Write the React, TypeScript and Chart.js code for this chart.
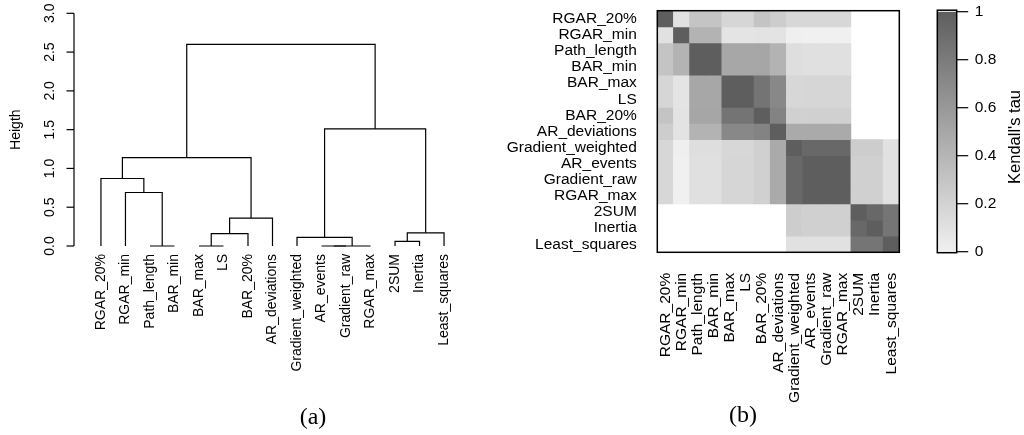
import React, { useEffect, useRef } from "react";
import { Chart, registerables } from "chart.js";

Chart.register(...registerables);

// ---------- Data: dendrogram (a) ----------
const leafLabels = [
  "RGAR_20%", "RGAR_min", "Path_length", "BAR_min", "BAR_max", "LS", "BAR_20%",
  "AR_deviations", "Gradient_weighted", "AR_events", "Gradient_raw", "RGAR_max",
  "2SUM", "Inertia", "Least_squares",
];
// hclust-like merges: negative = leaf position (1-based), positive = earlier merge (1-based)
const mergeLeft = [-3, -5, -10, 3, -13, -9, 2, 5, 7, -2, -1, 11, 6, 12];
const mergeRight = [-4, -6, -11, -12, -14, 4, -7, -15, -8, 1, 10, 9, 8, 13];
const mergeHeight = [0, 0, 0, 0, 0.06, 0.11, 0.16, 0.17, 0.36, 0.69, 0.87, 1.14, 1.51, 2.6];
const heightTicks = [0, 0.5, 1, 1.5, 2, 2.5, 3];
const heightTickLabels = ["0.0", "0.5", "1.0", "1.5", "2.0", "2.5", "3.0"];

// ---------- Data: Kendall's tau heatmap (b) ----------
const heatLabels = [
  "RGAR_20%", "RGAR_min", "Path_length", "BAR_min", "BAR_max", "LS", "BAR_20%",
  "AR_deviations", "Gradient_weighted", "AR_events", "Gradient_raw", "RGAR_max",
  "2SUM", "Inertia", "Least_squares",
];
const N = null;
const tau: (number | null)[][] = [
  [1.00, 0.10, 0.30, 0.30, 0.18, 0.18, 0.30, 0.24, 0.17, 0.17, 0.17, 0.17, N, N, N],
  [0.10, 1.00, 0.42, 0.42, 0.08, 0.08, 0.09, 0.09, 0.01, 0.00, 0.00, 0.00, N, N, N],
  [0.30, 0.42, 1.00, 1.00, 0.50, 0.50, 0.51, 0.42, 0.12, 0.11, 0.11, 0.11, N, N, N],
  [0.30, 0.42, 1.00, 1.00, 0.50, 0.50, 0.51, 0.42, 0.12, 0.11, 0.11, 0.11, N, N, N],
  [0.18, 0.08, 0.50, 0.50, 1.00, 1.00, 0.85, 0.71, 0.17, 0.18, 0.18, 0.18, N, N, N],
  [0.18, 0.08, 0.50, 0.50, 1.00, 1.00, 0.85, 0.71, 0.17, 0.18, 0.18, 0.18, N, N, N],
  [0.30, 0.09, 0.51, 0.51, 0.85, 0.85, 1.00, 0.75, 0.22, 0.22, 0.22, 0.22, N, N, N],
  [0.24, 0.09, 0.42, 0.42, 0.71, 0.71, 0.75, 1.00, 0.48, 0.48, 0.48, 0.48, N, N, N],
  [0.17, 0.01, 0.12, 0.12, 0.17, 0.17, 0.22, 0.48, 1.00, 0.93, 0.93, 0.93, 0.24, 0.24, 0.10],
  [0.17, 0.00, 0.11, 0.11, 0.18, 0.18, 0.22, 0.48, 0.93, 1.00, 1.00, 1.00, 0.22, 0.22, 0.10],
  [0.17, 0.00, 0.11, 0.11, 0.18, 0.18, 0.22, 0.48, 0.93, 1.00, 1.00, 1.00, 0.22, 0.22, 0.10],
  [0.17, 0.00, 0.11, 0.11, 0.18, 0.18, 0.22, 0.48, 0.93, 1.00, 1.00, 1.00, 0.22, 0.22, 0.10],
  [N, N, N, N, N, N, N, N, 0.24, 0.22, 0.22, 0.22, 1.00, 0.93, 0.84],
  [N, N, N, N, N, N, N, N, 0.24, 0.22, 0.22, 0.22, 0.93, 1.00, 0.84],
  [N, N, N, N, N, N, N, N, 0.10, 0.10, 0.10, 0.10, 0.84, 0.84, 1.00],
];
const tauTicks = [0, 0.2, 0.4, 0.6, 0.8, 1];
const tauTickLabels = ["0", "0.2", "0.4", "0.6", "0.8", "1"];

// ---------- Styling helpers ----------
const SANS = '"Liberation Sans", Arial, Helvetica, sans-serif';
const SERIF = '"Liberation Serif", "Times New Roman", serif';
const gray = (v: number) => {
  const g = Math.round(240 - 146 * v);
  return `rgb(${g},${g},${g})`;
};

function buildDendrogramSegments() {
  const mx: number[] = [];
  const segs: { x: number; y: number }[][] = [];
  const node = (id: number) =>
    id < 0 ? { x: -id, h: 0 } : { x: mx[id - 1], h: mergeHeight[id - 1] };
  for (let m = 0; m < mergeHeight.length; m++) {
    const a = node(mergeLeft[m]);
    const b = node(mergeRight[m]);
    const h = mergeHeight[m];
    mx.push((a.x + b.x) / 2);
    segs.push([
      { x: a.x, y: a.h },
      { x: a.x, y: h },
      { x: b.x, y: h },
      { x: b.x, y: b.h },
    ]);
  }
  return segs;
}

const dendroAxesPlugin = {
  id: "dendroAxes",
  afterDraw(chart: any) {
    const ctx = chart.ctx;
    const xs = chart.scales.x;
    const ys = chart.scales.y;
    const area = chart.chartArea;
    const left = area.left;
    ctx.save();
    ctx.strokeStyle = "#000";
    ctx.fillStyle = "#000";
    ctx.lineWidth = 1.2;
    ctx.beginPath();
    ctx.moveTo(left, ys.getPixelForValue(heightTicks[0]));
    ctx.lineTo(left, ys.getPixelForValue(heightTicks[heightTicks.length - 1]));
    ctx.stroke();
    ctx.font = `14px ${SANS}`;
    heightTicks.forEach((t, i) => {
      const y = ys.getPixelForValue(t);
      ctx.beginPath();
      ctx.moveTo(left - 7.5, y);
      ctx.lineTo(left, y);
      ctx.stroke();
      ctx.save();
      ctx.translate(left - 24, y);
      ctx.rotate(-Math.PI / 2);
      ctx.textAlign = "center";
      ctx.textBaseline = "middle";
      ctx.fillText(heightTickLabels[i], 0, 0);
      ctx.restore();
    });
    ctx.save();
    ctx.translate(16.5, (area.top + area.bottom) / 2);
    ctx.rotate(-Math.PI / 2);
    ctx.textAlign = "center";
    ctx.textBaseline = "middle";
    ctx.fillText("Heigth", 0, 0);
    ctx.restore();
    const yLab = ys.getPixelForValue(0) + 8;
    leafLabels.forEach((lab, i) => {
      const x = xs.getPixelForValue(i + 1);
      ctx.save();
      ctx.translate(x, yLab);
      ctx.rotate(-Math.PI / 2);
      ctx.textAlign = "right";
      ctx.textBaseline = "middle";
      ctx.fillText(lab, 0, 0);
      ctx.restore();
    });
    ctx.font = `24px ${SERIF}`;
    ctx.textAlign = "center";
    ctx.textBaseline = "middle";
    ctx.fillText("(a)", 313, 418);
    ctx.restore();
  },
};

const heatAxesPlugin = {
  id: "heatAxes",
  afterDraw(chart: any) {
    const ctx = chart.ctx;
    const xs = chart.scales.x;
    const ys = chart.scales.y;
    const a = chart.chartArea;
    ctx.save();
    ctx.strokeStyle = "#000";
    ctx.lineWidth = 1.5;
    ctx.strokeRect(a.left, a.top, a.right - a.left, a.bottom - a.top);
    ctx.fillStyle = "#000";
    ctx.font = `15.5px ${SANS}`;
    ctx.textAlign = "right";
    ctx.textBaseline = "middle";
    heatLabels.forEach((lab, r) => {
      ctx.fillText(lab, a.left - 20.5, ys.getPixelForValue(r + 0.5));
    });
    heatLabels.forEach((lab, c) => {
      const x = xs.getPixelForValue(c);
      ctx.save();
      ctx.translate(x, a.bottom + 20.5);
      ctx.rotate(-Math.PI / 2);
      ctx.textAlign = "right";
      ctx.textBaseline = "middle";
      ctx.fillText(lab, 0, 0);
      ctx.restore();
    });
    ctx.font = `24px ${SERIF}`;
    ctx.textAlign = "center";
    ctx.textBaseline = "middle";
    ctx.fillText("(b)", 243, 416);
    ctx.restore();
  },
};

const colorbarPlugin = {
  id: "colorbarAxes",
  afterDraw(chart: any) {
    const ctx = chart.ctx;
    const ys = chart.scales.y;
    const a = chart.chartArea;
    ctx.save();
    ctx.strokeStyle = "#000";
    ctx.lineWidth = 1.5;
    ctx.strokeRect(a.left, a.top - 1.5, a.right - a.left, a.bottom - a.top + 2.5);
    ctx.lineWidth = 1.2;
    ctx.fillStyle = "#000";
    ctx.font = `15.5px ${SANS}`;
    ctx.textAlign = "left";
    ctx.textBaseline = "middle";
    tauTicks.forEach((t, i) => {
      const y = ys.getPixelForValue(t);
      ctx.beginPath();
      ctx.moveTo(a.right, y);
      ctx.lineTo(a.right + 11.5, y);
      ctx.stroke();
      ctx.fillText(tauTickLabels[i], a.right + 18, y);
    });
    ctx.save();
    ctx.font = `16.5px ${SANS}`;
    ctx.translate(95, 137);
    ctx.rotate(-Math.PI / 2);
    ctx.textAlign = "center";
    ctx.textBaseline = "middle";
    ctx.fillText("Kendall's tau", 0, 0);
    ctx.restore();
    ctx.restore();
  },
};

export default function App() {
  const aRef = useRef<HTMLCanvasElement>(null);
  const bRef = useRef<HTMLCanvasElement>(null);
  const cRef = useRef<HTMLCanvasElement>(null);

  useEffect(() => {
    const segs = buildDendrogramSegments();
    const chartA = new Chart(aRef.current as HTMLCanvasElement, {
      type: "scatter",
      data: {
        datasets: segs.map((pts) => ({
          data: pts,
          showLine: true,
          borderColor: "#000",
          borderWidth: 1.2,
          pointRadius: 0,
          fill: false,
          tension: 0,
        })),
      },
      options: {
        animation: false,
        responsive: false,
        layout: { padding: { left: 74, right: 29, top: 4, bottom: 179.7 } },
        scales: {
          x: { type: "linear", min: -0.1, max: 16.1, display: false },
          y: { type: "linear", min: -0.12, max: 3.12, display: false },
        },
        plugins: { legend: { display: false }, tooltip: { enabled: false } },
      },
      plugins: [dendroAxesPlugin],
    } as any);

    const chartB = new Chart(bRef.current as HTMLCanvasElement, {
      type: "bar",
      data: {
        labels: heatLabels,
        datasets: tau.map((row, r) => ({
          data: row.map((v) => (v == null ? null : [r, r + 1])),
          backgroundColor: row.map((v) => (v == null ? "rgba(0,0,0,0)" : gray(v))),
          borderWidth: 0,
          grouped: false,
          barPercentage: 1,
          categoryPercentage: 1,
        })),
      },
      options: {
        animation: false,
        responsive: false,
        layout: { padding: { left: 157.3, right: 20.7, top: 10.7, bottom: 182.7 } },
        scales: {
          x: { type: "category", display: false, offset: true },
          y: { type: "linear", min: 0, max: 15, reverse: true, display: false },
        },
        plugins: { legend: { display: false }, tooltip: { enabled: false } },
      },
      plugins: [heatAxesPlugin],
    } as any);

    const chartC = new Chart(cRef.current as HTMLCanvasElement, {
      type: "bar",
      data: {
        labels: ["Kendall's tau"],
        datasets: [
          {
            data: [[0, 1]],
            backgroundColor: (c: any) => {
              const area = c.chart.chartArea;
              if (!area) return gray(0.5);
              const g = c.chart.ctx.createLinearGradient(0, area.bottom, 0, area.top);
              g.addColorStop(0, gray(0));
              g.addColorStop(1, gray(1));
              return g;
            },
            borderWidth: 0,
            barPercentage: 1,
            categoryPercentage: 1,
          },
        ],
      },
      options: {
        animation: false,
        responsive: false,
        layout: { padding: { left: 17.3, right: 67.3, top: 11.7, bottom: 183.3 } },
        scales: {
          x: { type: "category", display: false, offset: true },
          y: { type: "linear", min: 0, max: 1, display: false },
        },
        plugins: { legend: { display: false }, tooltip: { enabled: false } },
      },
      plugins: [colorbarPlugin],
    } as any);

    return () => {
      chartA.destroy();
      chartB.destroy();
      chartC.destroy();
    };
  }, []);

  return (
    <div style={{ position: "absolute", left: 0, top: 0, width: 1024, height: 435, background: "#fff" }}>
      <canvas ref={aRef} width={500} height={435} style={{ position: "absolute", left: 0, top: 0 }} />
      <canvas ref={bRef} width={420} height={435} style={{ position: "absolute", left: 500, top: 0 }} />
      <canvas ref={cRef} width={104} height={435} style={{ position: "absolute", left: 920, top: 0 }} />
    </div>
  );
}
